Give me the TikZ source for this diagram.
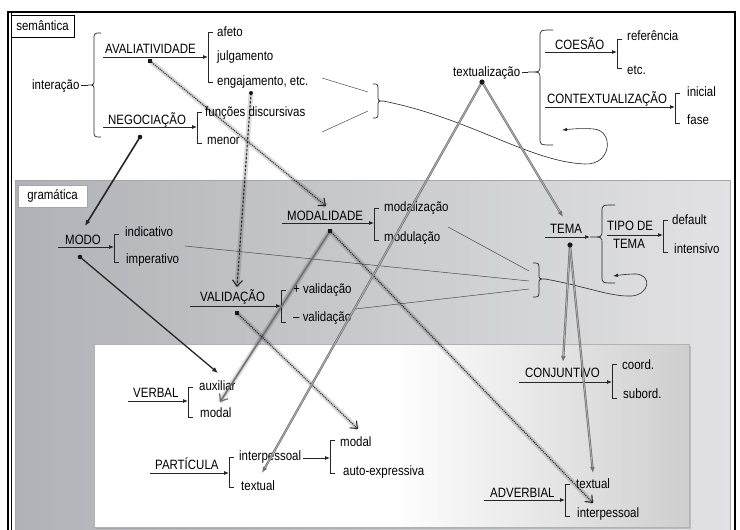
\documentclass[tikz,border=0pt]{standalone}
\usepackage{fontspec}
\setmainfont{Liberation Sans}[FakeStretch=0.85]
\usetikzlibrary{arrows.meta,shadows}

\definecolor{gramA}{RGB}{176,178,183}
\definecolor{gramB}{RGB}{226,226,228}
\definecolor{linkgray}{RGB}{112,112,114}

% curly brace: ends at x=#1, spine at x=#2, tip at x=#3; top y=#4, tip y=#5, bottom y=#6
\newcommand\curlyb[6]{%
  \draw[bk] (#1,#4) .. controls (#2,#4) .. (#2,{#4+7}) -- (#2,{#5-6})
    .. controls (#2,#5) .. (#3,#5) .. controls (#2,#5) .. (#2,{#5+6})
    -- (#2,{#6-7}) .. controls (#2,#6) .. (#1,#6);}
% square bracket with short ticks: x=#1, top=#2, bottom=#3
\newcommand\sqbr[3]{\draw[bk] ({#1+5},#2) -- (#1,#2) -- (#1,#3) -- ({#1+5},#3);}

\tikzset{
  txt/.style={anchor=base west, inner sep=0pt, font=\fontsize{13.5}{15}\selectfont},
  txtc/.style={txt, anchor=base},
  labelbox/.style={draw, fill=white, inner sep=0pt, minimum height=22pt,
    font=\fontsize{13.5}{15}\selectfont},
  bk/.style={line width=0.7pt, black!85},
  lab/.style={line width=0.8pt, black!85, -{Latex[length=5pt,width=4pt]}},
  thinln/.style={line width=0.45pt, black!75},
  loopln/.style={line width=0.6pt, black!85, -{Latex[length=5pt,width=3.5pt]}},
  glow/.style={preaction={draw=black, arrows=-, opacity=0.14, line width=5pt, solid}},
  dotlink/.style={glow, densely dotted, line width=1.1pt, black!85,
    -{Straight Barb[length=6pt,width=10pt,line width=1.1pt]}},
  dashlink/.style={glow, dash pattern=on 2.5pt off 1.5pt, line width=1.1pt, black!85,
    -{Straight Barb[length=6pt,width=10pt,line width=1.1pt]}},
  graylink/.style={glow, line width=1.6pt, linkgray,
    -{Straight Barb[length=6pt,width=10pt,line width=1.3pt]}},
  darklink/.style={line width=1.6pt, black!85, -{Latex[length=6pt,width=5pt]}},
  duallink/.style={line width=2.2pt, linkgray, -{Latex[length=6pt,width=5pt]},
    postaction={draw=gray!55, line width=0.7pt, arrows=-, shorten >=6pt}},
  rdot/.style={fill=black!90},
}

\begin{document}
\begin{tikzpicture}[x=1pt,y=-1pt]
\useasboundingbox (0,0) rectangle (740,530);
\fill[white] (0,0) rectangle (740,530);

% ---------- panels ----------
\path[left color=gramA, right color=gramB, draw=gray!70] (15,180) rectangle (730,545);
\path[drop shadow={opacity=0.35,shadow xshift=1.5pt,shadow yshift=-1.5pt},
      left color=white, right color=gray!38, middle color=white, draw=gray!60]
      (94,344) rectangle (689,527);
\draw[line width=1.5pt] (8,12) rectangle (735,545);
\draw[line width=0.6pt] (11.5,12) -- (11.5,530);

\node[labelbox, minimum width=63pt] (semLbl) at (42.5,26) {semântica};
\node[labelbox, minimum width=69pt, draw=gray!70] (gramLbl) at (52.5,196) {gramática};

% ---------- semântica ----------
\node[txt] (interacao) at (32,89) {interação};
\node[txt] (aval) at (105,53) {AVALIATIVIDADE};
\node[txt] (afeto) at (217,36) {afeto};
\node[txt] (julg) at (217,60) {julgamento};
\node[txt] (engaj) at (217,85) {engajamento, etc.};
\node[txt] (neg) at (108,124) {NEGOCIAÇÃO};
\node[txt] (func) at (205,116) {funções discursivas};
\node[txt] (menor) at (207,144) {menor};

\node[txt] (textz) at (453,76) {textualização};
\node[txt] (coes) at (555,49) {COESÃO};
\node[txt] (refer) at (627,41) {referência};
\node[txt] (etc) at (627,74) {etc.};
\node[txt] (contx) at (547,103) {CONTEXTUALIZAÇÃO};
\node[txt] (inicial) at (687,96) {inicial};
\node[txt] (fase) at (687,124) {fase};

% braces
\curlyb{101}{94}{88}{33}{85}{137}
\coordinate (interTip) at (88,85);
\draw[bk] (interacao.east |- interTip) ++(1pt,0) -- (interTip);
\curlyb{553}{540}{528}{30}{72}{145}
\coordinate (textTip) at (528,72);
\draw[bk] (textz.east |- textTip) ++(2pt,0) -- (textTip);

% label arrows and brackets
\coordinate (avalS) at (103,57);  \coordinate (avalE) at (208,57);
\draw[lab] (avalS) -- (avalE);    \sqbr{208}{32}{82}
\coordinate (negS) at (103,127);  \coordinate (negE) at (197,127);
\draw[lab] (negS) -- (negE);      \sqbr{197}{112}{143}
\coordinate (coesS) at (545,52);  \coordinate (coesE) at (617,52);
\draw[lab] (coesS) -- (coesE);    \sqbr{617}{39}{68}
\coordinate (contxS) at (545,107); \coordinate (contxE) at (675,107);
\draw[lab] (contxS) -- (contxE);  \sqbr{675}{93}{123}

% gathering brace with feedback loop
\coordinate (engR) at (322,78);  \coordinate (engB) at (368,92);
\coordinate (funR) at (322,132); \coordinate (funB) at (368,111);
\draw[thinln] (engR) -- (engB);
\draw[thinln] (funR) -- (funB);
\curlyb{373}{378}{383}{84}{101}{118}
\coordinate (semTip) at (383,101);
\coordinate (semBack) at (562,130);
\draw[loopln] (semTip) .. controls (470,118) and (530,162) .. (585,164)
  .. controls (612,165) and (614,131) .. (594,129)
  .. controls (582,128) and (572,129) .. (semBack);

% ---------- gramática ----------
\node[txt] (modo) at (65,244) {MODO};
\node[txt] (indic) at (125,236) {indicativo};
\node[txt] (imper) at (126,263) {imperativo};
\node[txt] (modal) at (287,220) {MODALIDADE};
\node[txt] (modaliz) at (384,211) {modalização};
\node[txt] (modul) at (384,241) {modulação};
\node[txt] (valid) at (200,301) {VALIDAÇÃO};
\node[txt] (pval) at (293,293) {+ validação};
\node[txt] (mval) at (293,321) {– validação};
\node[txt] (tema) at (550,233) {TEMA};
\node[txt] (tipoA) at (607,230) {TIPO DE};
\node[txtc] (tipoB) at (629,248) {TEMA};
\node[txt] (default) at (672,224) {default};
\node[txt] (intens) at (674,253) {intensivo};

\coordinate (modoS) at (58,247);  \coordinate (modoE) at (114,247);
\draw[lab] (modoS) -- (modoE);    \sqbr{114}{234}{262}
\coordinate (modalS) at (282,223); \coordinate (modalE) at (374,223);
\draw[lab] (modalS) -- (modalE);  \sqbr{374}{208}{240}
\coordinate (validS) at (190,306); \coordinate (validE) at (281,306);
\draw[lab] (validS) -- (validE);  \sqbr{281}{290}{322}
\coordinate (temaS) at (545,237); \coordinate (temaE) at (590,237);
\draw[lab] (temaS) -- (temaE);
\curlyb{615}{602}{590}{205}{237}{283}
\coordinate (tipoS) at (607,235); \coordinate (tipoE) at (663,235);
\draw[lab] (tipoS) -- (tipoE);    \sqbr{663}{220}{252}

% gathering brace with feedback loop
\coordinate (modulR) at (448,227); \coordinate (modulB) at (529,271);
\coordinate (modoR) at (185,246);  \coordinate (modoB) at (529,281);
\coordinate (validR) at (355,309); \coordinate (validB) at (529,289);
\draw[thinln] (modulR) -- (modulB);
\draw[thinln] (modoR) -- (modoB);
\draw[thinln] (validR) -- (validB);
\curlyb{533}{539}{545}{263}{279}{297}
\coordinate (gramTip) at (545,279);
\coordinate (gramBack) at (613,276);
\draw[loopln] (gramTip) .. controls (585,286) and (610,297) .. (632,296)
  .. controls (650,294) and (652,275) .. (636,274)
  .. controls (628,274) and (620,275) .. (gramBack);

% ---------- inner panel ----------
\node[txt] (verbal) at (133,397) {VERBAL};
\node[txt] (aux) at (199,390) {auxiliar};
\node[txt] (vmodal) at (200,417) {modal};
\node[txt] (part) at (155,469) {PARTÍCULA};
\node[txt] (pinter) at (239,460) {interpessoal};
\node[txt] (ptext) at (241,490) {textual};
\node[txt] (pmodal) at (340,446) {modal};
\node[txt] (autoexp) at (343,475) {auto-expressiva};
\node[txt] (conj) at (525,377) {CONJUNTIVO};
\node[txt] (coord) at (622,369) {coord.};
\node[txt] (subord) at (623,398) {subord.};
\node[txt] (adverb) at (490,497) {ADVERBIAL};
\node[txt] (atext) at (576,488) {textual};
\node[txt] (ainter) at (577,517) {interpessoal};

\coordinate (verbalS) at (128,401); \coordinate (verbalE) at (188,401);
\draw[lab] (verbalS) -- (verbalE);  \sqbr{188}{387}{417}
\coordinate (partS) at (150,473);   \coordinate (partE) at (229,473);
\draw[lab] (partS) -- (partE);      \sqbr{229}{457}{487}
\coordinate (pinterS) at (303,458); \coordinate (pinterE) at (330,458);
\draw[lab] (pinterS) -- (pinterE);  \sqbr{330}{440}{473}
\coordinate (conjS) at (519,382);   \coordinate (conjE) at (612,382);
\draw[lab] (conjS) -- (conjE);      \sqbr{612}{364}{398}
\coordinate (adverbS) at (484,500); \coordinate (adverbE) at (565,500);
\draw[lab] (adverbS) -- (adverbE);  \sqbr{565}{484}{516}

% ---------- cross links ----------
\coordinate (avalDot) at (150,61);   \coordinate (modalIn) at (326,206);
\coordinate (engDot) at (251,93);    \coordinate (validIn) at (237,287);
\coordinate (negDot) at (140,137);   \coordinate (modoIn) at (85,226);
\coordinate (modoDot) at (80,257);   \coordinate (auxIn) at (218,373);
\coordinate (modalDot) at (330,231); \coordinate (vmodalIn) at (220,402);
\coordinate (ainterIn) at (593,503);
\coordinate (validDot) at (237,313); \coordinate (pmodalIn) at (358,429);
\coordinate (textDot) at (482,82);   \coordinate (ptextIn) at (262,473);
\coordinate (temaIn) at (563,217);
\coordinate (temaDot) at (570,245);  \coordinate (conjIn) at (563,362);
\coordinate (atextIn) at (593,473);

\draw[dotlink] (avalDot) -- (modalIn);
\draw[dashlink] (engDot) -- (validIn);
\draw[darklink] (negDot) -- (modoIn);
\draw[darklink, line width=1.3pt] (modoDot) -- (auxIn);
\draw[graylink] (modalDot) -- (vmodalIn);
\draw[dotlink] (modalDot) -- (ainterIn);
\draw[dotlink] (validDot) -- (pmodalIn);
\draw[duallink] (textDot) -- (ptextIn);
\draw[duallink] (textDot) -- (temaIn);
\draw[duallink] (temaDot) -- (conjIn);
\draw[duallink] (temaDot) -- (atextIn);

\fill[rdot] (avalDot) +(-2pt,-2pt) rectangle +(2pt,2pt);
\fill[rdot] (modalDot) +(-2pt,-2pt) rectangle +(2pt,2pt);
\fill[rdot] (validDot) +(-2pt,-2pt) rectangle +(2pt,2pt);
\fill[rdot] (engDot) circle (2pt);
\fill[rdot] (negDot) circle (2.3pt);
\fill[rdot] (modoDot) circle (2.3pt);
\fill[rdot] (textDot) circle (2.6pt);
\fill[rdot] (temaDot) circle (2.6pt);
\end{tikzpicture}
\end{document}
